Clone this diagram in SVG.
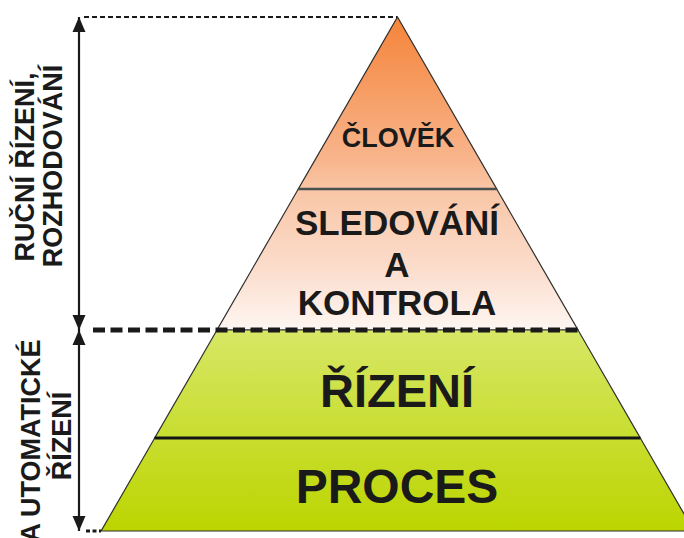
<svg xmlns="http://www.w3.org/2000/svg" width="684" height="538" viewBox="0 0 684 538">
  <defs>
    <linearGradient id="gradTop" gradientUnits="userSpaceOnUse" x1="0" y1="17" x2="0" y2="330">
      <stop offset="0" stop-color="#F5843A"/>
      <stop offset="0.45" stop-color="#F8B48B"/>
      <stop offset="0.55" stop-color="#F9C6A6"/>
      <stop offset="0.8" stop-color="#FBDCCB"/>
      <stop offset="1" stop-color="#FEF6F2"/>
    </linearGradient>
    <linearGradient id="gradBottom" gradientUnits="userSpaceOnUse" x1="0" y1="330" x2="0" y2="531">
      <stop offset="0" stop-color="#D7E766"/>
      <stop offset="0.5" stop-color="#C9DE33"/>
      <stop offset="1" stop-color="#BCD500"/>
    </linearGradient>
    <marker id="arrow" viewBox="-16 -8 17 16" markerWidth="17" markerHeight="16" refX="0" refY="0" orient="auto-start-reverse" markerUnits="userSpaceOnUse">
      <path d="M0,0 L-15,-6.5 L-15,6.5 Z" fill="#1a1a1a"/>
    </marker>
    <style>
      .tier { stroke: #2e2e2e; stroke-width: 1.2; stroke-linejoin: miter; }
      .label { font-family: "Liberation Sans", Arial, sans-serif; font-weight: bold; fill: #1a1a1a; text-anchor: middle; }
      .side { font-size: 27px; }
      .conn { stroke: #1a1a1a; fill: none; }
    </style>
  </defs>

  <!-- pyramid tiers, apex at (397.5,17) -->
  <g id="clovek">
    <polygon class="tier" points="397.5,17 496.7,189 298.3,189" fill="url(#gradTop)"/>
    <text class="label" x="398" y="147" font-size="27">ČLOVĚK</text>
  </g>
  <g id="sledovani">
    <polygon class="tier" points="298.3,189 496.7,189 578,330 217,330" fill="url(#gradTop)"/>
    <text class="label" x="397" y="235" font-size="35">SLEDOVÁNÍ</text>
    <text class="label" x="397" y="277" font-size="35">A</text>
    <text class="label" x="397" y="315" font-size="35">KONTROLA</text>
  </g>
  <g id="rizeni">
    <polygon class="tier" points="217,330 578,330 640.3,438 154.7,438" fill="url(#gradBottom)"/>
    <text class="label" x="397" y="407" font-size="47">ŘÍZENÍ</text>
  </g>
  <g id="proces">
    <polygon class="tier" points="154.7,438 640.3,438 693.9,531 101.1,531" fill="url(#gradBottom)"/>
    <text class="label" x="397" y="503" font-size="48">PROCES</text>
  </g>

  <!-- tier dividers -->
  <line x1="298.3" y1="189" x2="496.7" y2="189" stroke="#4a4f50" stroke-width="2.5"/>
  <line x1="154.7" y1="438" x2="640.3" y2="438" stroke="#151515" stroke-width="3"/>

  <!-- range markers on the left -->
  <g id="connectors">
    <line class="conn" x1="84" y1="17" x2="397" y2="17" stroke-width="2.2" stroke-dasharray="5 3"/>
    <line class="conn" x1="93" y1="330" x2="578" y2="330" stroke-width="5" stroke-dasharray="12 5.5"/>
    <line class="conn" x1="86" y1="531" x2="101" y2="531" stroke-width="3" stroke-dasharray="4 2.5"/>
    <line class="conn" x1="79" y1="17" x2="79" y2="330" stroke-width="2.2" marker-start="url(#arrow)" marker-end="url(#arrow)"/>
    <line class="conn" x1="79" y1="330" x2="79" y2="531" stroke-width="2.2" marker-start="url(#arrow)" marker-end="url(#arrow)"/>
  </g>

  <g id="manual-label">
    <text class="label side" transform="translate(34,167) rotate(-90)">RUČNÍ ŘÍZENÍ,</text>
    <text class="label side" transform="translate(62,166) rotate(-90)">ROZHODOVÁNÍ</text>
  </g>
  <g id="auto-label">
    <text class="label side" transform="translate(40,441) rotate(-90)"><tspan>A</tspan><tspan dx="6">UTOMATICKÉ</tspan></text>
    <text class="label side" transform="translate(71,436) rotate(-90)">ŘÍZENÍ</text>
  </g>
</svg>
